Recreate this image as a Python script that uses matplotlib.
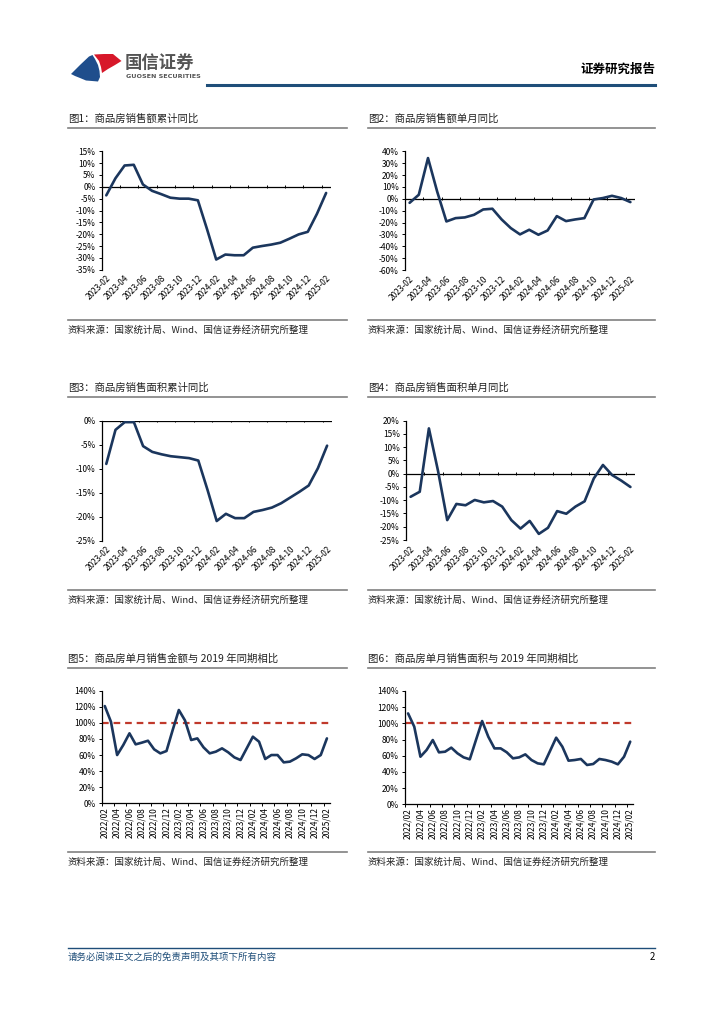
import matplotlib
matplotlib.use('Agg')
import matplotlib.pyplot as plt
from matplotlib.patches import Polygon
from matplotlib.ticker import FixedLocator, FuncFormatter
import pandas as pd

plt.rcParams['font.family'] = ['Noto Sans CJK SC', 'DejaVu Sans']
plt.rcParams['axes.unicode_minus'] = False

# monthly categories
months_a = pd.date_range('2023-02', '2025-02', freq='MS').strftime('%Y-%m').tolist()
months_b = pd.date_range('2022-02', '2025-02', freq='MS').strftime('%Y/%m').tolist()

# 图1 商品房销售额累计同比 (%)
amt_cum = [-3.6, 3.6, 9.0, 9.3, 1.0, -1.7, -3.1, -4.6, -5.0, -5.0, -5.7, -17.9, -30.7,
           -28.6, -28.9, -28.9, -25.7, -25.0, -24.4, -23.6, -21.9, -20.1, -19.0, -11.4, -2.6]
# 图2 商品房销售额单月同比 (%)
amt_mon = [-3.4, 3.4, 34.3, 6.0, -19.1, -16.3, -15.7, -13.5, -9.0, -8.4, -17.4, -24.7, -30.0,
           -26.1, -30.3, -26.7, -14.6, -18.8, -17.4, -16.3, -0.6, 0.6, 2.5, 0.6, -2.8]
# 图3 商品房销售面积累计同比 (%)
area_cum = [-9.0, -1.9, -0.3, -0.3, -5.3, -6.5, -7.0, -7.4, -7.6, -7.8, -8.3, -14.4, -20.9,
            -19.4, -20.3, -20.3, -19.0, -18.6, -18.1, -17.2, -16.0, -14.8, -13.5, -9.9, -5.2]
# 图4 商品房销售面积单月同比 (%)
area_mon = [-8.7, -6.8, 17.1, 1.0, -17.5, -11.4, -11.9, -9.9, -10.8, -10.3, -12.4, -17.5, -20.7,
            -17.8, -22.7, -20.4, -14.1, -15.1, -12.4, -10.4, -1.8, 3.3, -0.5, -2.6, -5.0]
# 图5 商品房单月销售金额与2019年同期相比 (%)
amt_2019 = [120.9, 101.4, 60.0, 72.5, 87.0, 73.3, 75.4, 77.8, 67.1, 62.1, 65.0, 91.0, 116.0,
            103.0, 78.7, 80.7, 69.6, 62.1, 64.2, 68.3, 63.4, 57.1, 53.8, 68.3, 82.8, 76.6,
            55.1, 60.0, 60.0, 50.9, 51.8, 55.9, 60.9, 60.0, 55.1, 60.0, 80.7]
# 图6 商品房单月销售面积与2019年同期相比 (%)
area_2019 = [112.3, 95.9, 58.8, 67.1, 79.4, 64.2, 65.0, 70.0, 63.0, 58.0, 55.6, 79.4, 102.9,
             83.5, 69.1, 69.1, 64.2, 56.8, 58.0, 61.7, 54.7, 50.6, 49.4, 65.8, 82.3, 71.2,
             53.9, 54.7, 56.0, 48.6, 49.8, 56.0, 54.7, 52.7, 49.4, 58.8, 77.4]
ref_line = 100

titles = ['图1：商品房销售额累计同比', '图2：商品房销售额单月同比',
          '图3：商品房销售面积累计同比', '图4：商品房销售面积单月同比',
          '图5：商品房单月销售金额与 2019 年同期相比', '图6：商品房单月销售面积与 2019 年同期相比']
source = '资料来源：国家统计局、Wind、国信证券经济研究所整理'

W, H = 724, 1024
NAVY = '#1b365d'
fig = plt.figure(figsize=(W / 100, H / 100), dpi=100)


def px_rect(x0, y0, x1, y1):
    return [x0 / W, 1 - y1 / H, (x1 - x0) / W, (y1 - y0) / H]


def fx(x):
    return x / W


def fy(y):
    return 1 - y / H


def hline(x0, x1, y, color, lw):
    fig.add_artist(plt.Line2D([fx(x0), fx(x1)], [fy(y), fy(y)], color=color, lw=lw))


def shape(pts, color):
    fig.add_artist(Polygon([(fx(a), fy(b)) for a, b in pts], closed=True, color=color, lw=0))


pct = FuncFormatter(lambda v, p: f'{v:.0f}%')


def frame(x0, x1, ytitle, ysrc, title):
    fig.text(fx(x0), fy(ytitle), title, fontsize=7.5, va='center', color='#222222')
    hline(x0, x1, ytitle + 9, '#808080', 1.2)
    hline(x0, x1, ysrc - 10, '#808080', 1.2)
    fig.text(fx(x0), fy(ysrc), source, fontsize=6.8, va='center', color='#222222')


def yoy_chart(rect, vals, ylo, yhi, step):
    ax = fig.add_axes(rect)
    n = len(vals)
    x = list(range(n))
    ax.plot(x, vals, color=NAVY, lw=1.9, solid_joinstyle='round', solid_capstyle='round', zorder=3)
    ax.set_xlim(-0.5, n - 0.5)
    ax.set_ylim(ylo, yhi)
    ax.axhline(0, color='black', lw=0.9, zorder=2)
    d = (yhi - ylo) * 0.012
    ax.vlines([k - 0.5 for k in range(2, n + 1, 2)], -d, d, color='black', lw=0.7, zorder=2)
    for s in ['top', 'right', 'bottom']:
        ax.spines[s].set_visible(False)
    ax.spines['left'].set_linewidth(0.9)
    ax.set_yticks(range(ylo, yhi + 1, step))
    ax.yaxis.set_major_formatter(pct)
    ax.set_xticks(x[::2])
    ax.set_xticklabels(months_a[::2], rotation=45, ha='right', rotation_mode='anchor')
    ax.tick_params(axis='x', length=0, labelsize=6, pad=3)
    ax.tick_params(axis='y', length=2.5, width=0.7, labelsize=6, pad=2)
    ax.patch.set_alpha(0)
    return ax


def cmp_chart(rect, vals):
    ax = fig.add_axes(rect)
    n = len(vals)
    x = list(range(n))
    ax.axhline(ref_line, color='#c0392b', lw=1.6, ls=(0, (3, 2.2)), zorder=2)
    ax.plot(x, vals, color=NAVY, lw=1.9, solid_joinstyle='round', solid_capstyle='round', zorder=3)
    ax.set_xlim(-0.5, n - 0.5)
    ax.set_ylim(0, 140)
    for s in ['top', 'right']:
        ax.spines[s].set_visible(False)
    for s in ['left', 'bottom']:
        ax.spines[s].set_linewidth(0.9)
    ax.set_yticks(range(0, 141, 20))
    ax.yaxis.set_major_formatter(pct)
    ax.set_xticks(x[::2])
    ax.set_xticklabels(months_b[::2], rotation=90, ha='center', va='top')
    ax.xaxis.set_minor_locator(FixedLocator([k - 0.5 for k in range(0, n + 1, 2)]))
    ax.tick_params(axis='x', which='major', length=0, labelsize=6, pad=3)
    ax.tick_params(axis='x', which='minor', length=2.5, width=0.7)
    ax.tick_params(axis='y', length=2.5, width=0.7, labelsize=6, pad=2)
    ax.patch.set_alpha(0)
    return ax


# header logo
shape([(71, 74), (80, 65), (89, 56.5), (92.5, 55), (95, 59), (98, 65), (99.5, 71), (100, 77),
       (98, 81.5), (92, 81), (86, 80.5), (80, 78), (75, 76)], '#1f4e8c')
shape([(94, 54.5), (104, 54), (113, 54), (116, 56.5), (121.5, 61), (115, 65), (108, 69),
       (102, 73), (101, 67), (99, 61)], '#d7182a')
fig.text(fx(125), fy(63), '国信证券', fontsize=12.5, fontweight='bold', color='#555555', va='center')
fig.text(fx(126), fy(77), 'GUOSEN SECURITIES', fontsize=4.6, fontweight='bold', color='#555555',
         va='center', family='DejaVu Sans')
hline(207, 655, 84.5, '#1f4e79', 2.2)
fig.text(fx(655), fy(69), '证券研究报告', fontsize=9, fontweight='bold', ha='right', va='center')

# chart frames
frame(68, 347, 119, 330, titles[0])
frame(368, 655, 119, 330, titles[1])
frame(68, 347, 388, 600, titles[2])
frame(368, 655, 388, 600, titles[3])
frame(68, 347, 659, 862, titles[4])
frame(368, 655, 659, 862, titles[5])

yoy_chart(px_rect(101.7, 151.3, 330.7, 269.7), amt_cum, -35, 15, 5)
yoy_chart(px_rect(405, 151.3, 635, 270), amt_mon, -60, 40, 10)
yoy_chart(px_rect(101.7, 420.7, 331.7, 540.7), area_cum, -25, 0, 5)
yoy_chart(px_rect(406, 420.7, 635, 540), area_mon, -25, 20, 5)
cmp_chart(px_rect(101.7, 690.7, 330, 803.3), amt_2019)
cmp_chart(px_rect(405, 691, 633.3, 804.3), area_2019)

# footer
hline(68, 655, 947.7, '#1f4e79', 1.0)
fig.text(fx(68), fy(957), '请务必阅读正文之后的免责声明及其项下所有内容', fontsize=6.8, color='#1f4e79',
         va='center')
fig.text(fx(655), fy(957), '2', fontsize=7, ha='right', va='center')

fig.savefig('out.png', dpi=100, facecolor='white')
